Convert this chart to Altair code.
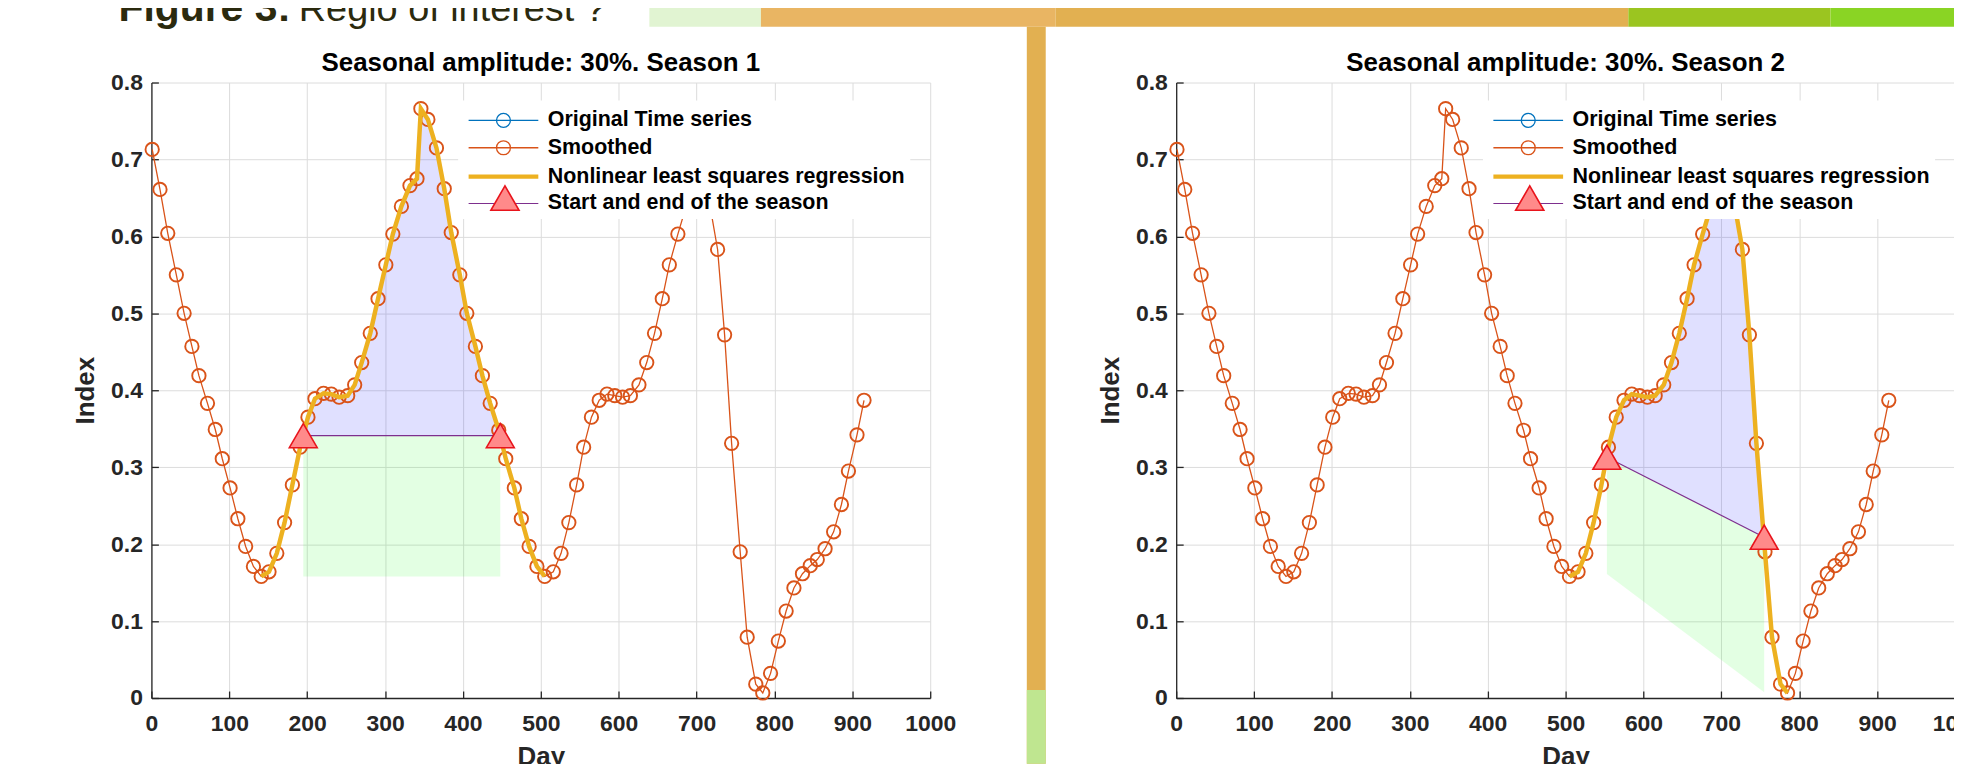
import altair as alt
import pandas as pd

FONT = "Liberation Sans"
W, H = 782, 618          # plot area of each panel
OX, OY = 152, 80         # page position of the left plot area (used for slide decorations)
X_MAX, Y_MAX = 1000, 0.8

# ---------------- data ----------------
days = [1, 11, 21, 32, 42, 52, 61, 72, 82, 91,
        101, 111, 121, 131, 141, 151, 161, 171, 181, 191,
        201, 210, 221, 231, 241, 252, 261, 270, 281, 291,
        301, 310, 321, 332, 341, 346, 355, 366, 376, 385,
        396, 405, 416, 425, 435, 446, 455, 466, 475, 485,
        495, 505, 516, 526, 536, 546, 555, 565, 575, 585,
        595, 605, 615, 626, 636, 646, 656, 665, 676, 686,
        696, 706, 716, 727, 736, 745, 756, 765, 776, 785,
        795, 805, 815, 825, 836, 846, 855, 865, 876, 886,
        895, 906, 915]
smoothed = [0.713, 0.661, 0.604, 0.550, 0.500, 0.457, 0.419, 0.383, 0.349, 0.311,
            0.273, 0.233, 0.197, 0.171, 0.158, 0.164, 0.188, 0.228, 0.277, 0.326,
            0.365, 0.389, 0.396, 0.395, 0.391, 0.393, 0.407, 0.436, 0.474, 0.519,
            0.563, 0.603, 0.639, 0.666, 0.675, 0.766, 0.752, 0.715, 0.662, 0.605,
            0.550, 0.500, 0.457, 0.419, 0.383, 0.348, 0.311, 0.273, 0.233, 0.197,
            0.171, 0.158, 0.164, 0.188, 0.228, 0.277, 0.326, 0.365, 0.387, 0.395,
            0.393, 0.391, 0.393, 0.407, 0.436, 0.474, 0.519, 0.563, 0.603, 0.637,
            0.700, 0.760, 0.647, 0.583, 0.472, 0.331, 0.190, 0.079, 0.018, 0.0065,
            0.032, 0.074, 0.113, 0.143, 0.1615, 0.172, 0.180, 0.194, 0.216, 0.2515,
            0.295, 0.342, 0.387]

# season 1
s1_title = "Seasonal amplitude: 30%. Season 1"
s1_fit_span = [141, 505]
s1_tri_day = [195, 448]
s1_tri_val = [0.341, 0.341]
s1_green_day = [195, 448, 448, 195]
s1_green_val = [0.341, 0.341, 0.158, 0.158]

# season 2
s2_title = "Seasonal amplitude: 30%. Season 2"
s2_fit_span = [505, 785]
s2_tri_day = [553, 755]
s2_tri_val = [0.313, 0.209]
s2_green_day = [553, 755, 755, 553]
s2_green_val = [0.313, 0.209, 0.0075, 0.161]

SERIES = ["Original Time series", "Smoothed",
          "Nonlinear least squares regression", "Start and end of the season"]
SERIES_COLORS = ["#0072BD", "#D95319", "#EDB120", "#7E2F8E"]
LC = "M-2.5,0H2.5M-0.5,0A0.5,0.5,0,1,1,0.5,0A0.5,0.5,0,1,1,-0.5,0"
LN = "M-2.5,0H2.5"
SERIES_SHAPES = [LC, LC, LN, LN]
SERIES_WIDTHS = [1.3, 1.3, 4.5, 1.2]

X_TICKS = list(range(0, 1001, 100))
Y_TICKS = [0, 0.1, 0.2, 0.3, 0.4, 0.5, 0.6, 0.7, 0.8]

ORANGE = "#D95319"
YELLOW = "#EDB120"
PURPLE = "#7E2F8E"


def x_axis(right):
    kw = {}
    if right:
        kw["labelExpr"] = "datum.value == 1000 ? '10' : datum.label"
        kw["labelOffset"] = {"condition": {"test": "datum.value == 1000", "value": -10}, "value": 0}
    return alt.Axis(values=X_TICKS, format="d", title="Day", grid=True,
                    tickSize={"expr": "-7"}, labelPadding=22, labelFlush=False,
                    labelOverlap=False, titleX=W / 2, titleY=67,
                    titleBaseline="alphabetic", titleAlign="center", **kw)


def y_axis():
    return alt.Axis(values=Y_TICKS, format=".1~f", title="Index", grid=True,
                    tickSize={"expr": "-7"}, labelPadding=16, labelFlush=False,
                    labelOverlap=False, titleX=-66, titleY=H / 2, titleAngle=-90,
                    titleBaseline="middle", titleAlign="center")


def panel(title, fit_span, tri_day, tri_val, green_day, green_val, right):
    xs = alt.Scale(domain=[0, X_MAX], nice=False, zero=False)
    ys = alt.Scale(domain=[0, Y_MAX], nice=False, zero=False)
    X = alt.X("day:Q", scale=xs, axis=x_axis(right))
    Y = alt.Y("value:Q", scale=ys, axis=y_axis())

    smooth_df = pd.DataFrame({"day": days, "value": smoothed})
    fit_df = smooth_df[(smooth_df.day >= fit_span[0]) & (smooth_df.day <= fit_span[1])]
    tri_df = pd.DataFrame({"day": tri_day, "value": tri_val})

    inner = smooth_df[(smooth_df.day > tri_day[0]) & (smooth_df.day < tri_day[1])]
    blue_days = [tri_day[0]] + list(inner.day) + [tri_day[1]]
    blue_vals = [tri_val[0]] + list(inner.value) + [tri_val[1]]
    blue_df = pd.DataFrame({"day": blue_days, "value": blue_vals, "i": range(len(blue_days))})
    green_df = pd.DataFrame({"day": green_day, "value": green_val, "i": range(len(green_day))})

    blue = alt.Chart(blue_df).mark_line(fill="#0000ff", fillOpacity=0.12, strokeOpacity=0,
                                        strokeWidth=0).encode(x=X, y=Y, order="i:Q")
    green = alt.Chart(green_df).mark_line(fill="#00ff00", fillOpacity=0.11, strokeOpacity=0,
                                          strokeWidth=0).encode(x=X, y=Y, order="i:Q")
    sm_line = alt.Chart(smooth_df).mark_line(color=ORANGE, strokeWidth=1.3).encode(x=X, y=Y)
    sm_pts = alt.Chart(smooth_df).mark_point(shape="circle", filled=False, stroke=ORANGE,
                                             strokeWidth=1.9, size=180, opacity=1).encode(x=X, y=Y)
    fit = alt.Chart(fit_df).mark_line(color=YELLOW, strokeWidth=4.5).encode(x=X, y=Y)
    base = alt.Chart(tri_df).mark_line(color=PURPLE, strokeWidth=1.2).encode(x=X, y=Y)
    tris = alt.Chart(tri_df).mark_point(shape="triangle-up", filled=True, fill="#ff8a8a",
                                        stroke="#e8141c", strokeWidth=1.6, size=784,
                                        opacity=1).encode(x=X, y=Y)

    leg = alt.Legend(orient="none", legendX=308, legendY=18, title=None, fillColor="white",
                     padding=5, symbolSize=784, symbolOffset=24, labelOffset=28, rowPadding=1.5,
                     labelFont=FONT, labelFontSize=21.5, labelFontWeight="bold",
                     labelColor="black", labelLimit=700, symbolOpacity=1)
    leg_df = pd.DataFrame({"series": SERIES})
    legend_layer = alt.Chart(leg_df).mark_point(filled=False, clip=True, opacity=1).encode(
        x=alt.value(-200), y=alt.value(-200),
        color=alt.Color("series:N", scale=alt.Scale(domain=SERIES, range=SERIES_COLORS), legend=leg),
        shape=alt.Shape("series:N", scale=alt.Scale(domain=SERIES, range=SERIES_SHAPES), legend=leg),
        strokeWidth=alt.StrokeWidth("series:N", scale=alt.Scale(type="ordinal", domain=SERIES,
                                                                 range=SERIES_WIDTHS), legend=leg),
    )
    tri_leg = alt.Legend(orient="none", legendX=340, legendY=101, title=None, padding=0,
                         symbolType="triangle-up", symbolSize=800, symbolStrokeColor="#e8141c",
                         symbolStrokeWidth=1.6, symbolOpacity=1, labelExpr="''",
                         labelOffset=0, symbolOffset=0)
    tri_leg_layer = alt.Chart(pd.DataFrame({"marker": ["sos"]})).mark_point(
        shape="triangle-up", filled=True, clip=True, opacity=1, stroke="#e8141c", strokeWidth=1.6
    ).encode(x=alt.value(-200), y=alt.value(-200),
             fill=alt.Fill("marker:N", scale=alt.Scale(domain=["sos"], range=["#ff8a8a"]),
                           legend=tri_leg))

    title_layer = alt.Chart(pd.DataFrame({"t": [title]})).mark_text(
        font=FONT, fontSize=26, fontWeight="bold", color="black", align="center",
        baseline="alphabetic").encode(x=alt.value(W / 2), y=alt.value(-12), text="t:N")

    layers = []
    if not right:
        layers += decorations()
    layers += [title_layer, blue, green, sm_line, sm_pts, fit, base, tris,
               legend_layer, tri_leg_layer]
    return alt.layer(*layers).properties(width=W, height=H)


# slide background around the two figures (page coordinates)
DECO_RECTS = [
    ("#e1f4d2", 652, 764, 0, 24),
    ("#e9b563", 764, 1060, 0, 24),
    ("#e2b051", 1060, 1635, 0, 24),
    ("#9bc520", 1635, 1838, 0, 24),
    ("#8ad424", 1838, 1962, 0, 24),
    ("#e2b051", 1031, 1050, 24, 764),
    ("#bfe690", 1031, 1050, 690, 764),
]


def decorations():
    one = pd.DataFrame({"k": [0]})
    out = []
    for color, x1, x2, y1, y2 in DECO_RECTS:
        out.append(alt.Chart(one).mark_rect(color=color).encode(
            x=alt.value(x1 - OX), x2=alt.value(x2 - OX), y=alt.value(y1 - OY), y2=alt.value(y2 - OY)))
    out.append(alt.Chart(one).mark_text(font=FONT, fontSize=41, fontWeight="bold", color="#2b2a0e",
                                        align="left", baseline="alphabetic").encode(
        x=alt.value(119 - OX), y=alt.value(18 - OY), text=alt.value("Figure 3:")))
    out.append(alt.Chart(one).mark_text(font=FONT, fontSize=38, color="#2b2a0e",
                                        align="left", baseline="alphabetic").encode(
        x=alt.value(300 - OX), y=alt.value(18 - OY), text=alt.value("Regio of interest ?")))
    return out


left = panel(s1_title, s1_fit_span, s1_tri_day, s1_tri_val, s1_green_day, s1_green_val, False)
right = panel(s2_title, s2_fit_span, s2_tri_day, s2_tri_val, s2_green_day, s2_green_val, True)

chart = alt.hconcat(left, right, spacing=247, bounds="flush").resolve_scale(
    x="independent", y="independent", color="independent", shape="independent",
    strokeWidth="independent", fill="independent"
).resolve_legend(
    color="independent", shape="independent", strokeWidth="independent", fill="independent"
).properties(
    autosize=alt.AutoSizeParams(type="none"),
    padding={"left": OX - 8, "top": OY - 8, "right": 1962 - OX, "bottom": 764 - OY},
    background="white",
).configure_view(stroke=None).configure_axis(
    domainColor="#262626", domainWidth=1.3, tickColor="#262626", tickWidth=1.3,
    gridColor="#dcdcdc", gridWidth=1, gridOpacity=1,
    labelFont=FONT, labelFontSize=23, labelFontWeight="bold", labelColor="#262626",
    titleFont=FONT, titleFontSize=26, titleFontWeight="bold", titleColor="#262626",
)

chart.save("out.html", embed_options={"renderer": "svg", "actions": False})
